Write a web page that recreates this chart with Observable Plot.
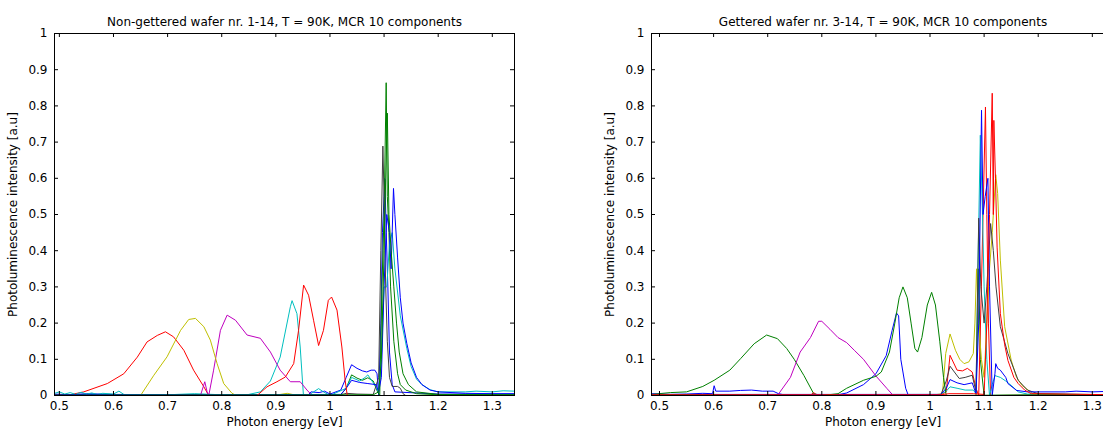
<!DOCTYPE html>
<html>
<head>
<meta charset="utf-8">
<script src="https://cdn.jsdelivr.net/npm/d3@7"></script>
<script src="https://cdn.jsdelivr.net/npm/@observablehq/plot@0.6"></script>
<style>
  html, body { margin: 0; padding: 0; background: #fff; overflow: hidden; }
  #wrap { position: relative; width: 1103px; height: 434px; overflow: hidden; background: #fff; }
  #wrap > div { position: absolute; top: 0; }
  #wrap svg { max-width: none !important; overflow: visible; }
</style>
</head>
<body>
<div id="wrap"><div id="left"></div><div id="right"></div></div>
<script>
// ---------- tick values ----------
const xTicks = [0.5, 0.6, 0.7, 0.8, 0.9, 1, 1.1, 1.2, 1.3];
const yTicks = [0, 0.1, 0.2, 0.3, 0.4, 0.5, 0.6, 0.7, 0.8, 0.9, 1];

// ---------- titles / labels ----------
const leftTitle = "Non-gettered wafer nr. 1-14, T = 90K, MCR 10 components";
const rightTitle = "Gettered wafer nr. 3-14, T = 90K, MCR 10 components";
const xLabel = "Photon energy [eV]";
const yLabel = "Photoluminescence intensity [a.u]";

// MATLAB default line colours
const colB = "#0000ff", colG = "#008000", colR = "#ff0000", colC = "#00bfbf",
      colM = "#bf00bf", colY = "#bfbf00", colK = "#404040";

// ---------- LEFT PANEL (non-gettered) components ----------
const L1_x = [0.491,0.52,0.55,0.6,0.7,0.8,0.9,0.96,0.965,0.98,0.99,1.0,1.02,1.03,1.04,1.05,1.06,1.068,1.076,1.083,1.087,1.09,1.094,1.097,1.1015,1.104,1.107,1.11,1.115,1.12,1.2,1.341];
const L1_y = [0.004,0.002,0.005,0.003,0.002,0.002,0.002,0.002,0.01,0.008,0.012,0.004,0.015,0.05,0.085,0.075,0.068,0.065,0.07,0.07,0.06,0.0,0.2,0.45,0.6,0.45,0.3,0.12,0.03,0.01,0.004,0.004];
const L2_x = [0.491,1.02,1.03,1.04,1.05,1.06,1.07,1.08,1.088,1.092,1.096,1.1,1.1039,1.106,1.109,1.112,1.118,1.125,1.13,1.14,1.16,1.2,1.341];
const L2_y = [0.001,0.002,0.02,0.057,0.048,0.042,0.049,0.04,0.01,0.0,0.3,0.5,0.864,0.55,0.45,0.3,0.15,0.06,0.03,0.015,0.005,0.002,0.002];
const L3_x = [0.491,0.52,0.545,0.5886,0.619,0.644,0.662,0.681,0.696,0.711,0.73,0.748,0.767,0.776,0.78];
const L3_y = [0.002,0.002,0.01,0.033,0.06,0.106,0.148,0.166,0.176,0.162,0.125,0.07,0.024,0.0,0.0];
const L4_x = [0.491,0.5,0.51,0.52,0.53,0.54,0.55,0.56,0.57,0.58,0.6,0.61,0.62,0.7,0.75,0.8,0.847,0.8714,0.89,0.908,0.9268,0.93,0.939,0.945,0.951,0.96,0.9697,0.979,0.988,1.0,1.03,1.04,1.055,1.065,1.07,1.08,1.09,1.095,1.1,1.105,1.11,1.115,1.12,1.13,1.142,1.15,1.16,1.17,1.185,1.2,1.25,1.27,1.3,1.32,1.341];
const L4_y = [0.006,0.01,0.004,0.008,0.003,0.009,0.004,0.007,0.003,0.006,0.004,0.012,0.002,0.002,0.005,0.002,0.002,0.01,0.04,0.106,0.245,0.262,0.226,0.134,0.0,0.0,0.01,0.019,0.01,0.0,0.02,0.05,0.04,0.05,0.057,0.035,0.01,0.1,0.3,0.3,0.42,0.45,0.35,0.22,0.13,0.08,0.045,0.03,0.016,0.01,0.01,0.012,0.01,0.013,0.012];
const L5_x = [0.7607,0.7687,0.773,0.776,0.785,0.7976,0.81,0.8254,0.8469,0.8714,0.89,0.908,0.9268,0.945,0.9576,0.967];
const L5_y = [0.0,0.038,0.01,0.0,0.07,0.18,0.222,0.208,0.167,0.158,0.12,0.07,0.038,0.038,0.015,0.0];
const L6_x = [0.65,0.6746,0.699,0.724,0.739,0.7515,0.767,0.779,0.7915,0.8037,0.819,0.827,0.896,0.921,0.94];
const L6_y = [0.0,0.056,0.107,0.18,0.21,0.213,0.19,0.153,0.088,0.033,0.006,0.0,0.0,0.006,0.0];
const L7_x = [0.491,1.02,1.03,1.05,1.08,1.09,1.094,1.0978,1.1,1.103,1.106,1.11,1.115,1.125,1.13,1.135,1.14,1.341];
const L7_y = [0.0,0.002,0.006,0.004,0.003,0.05,0.4,0.689,0.55,0.3,0.15,0.05,0.025,0.025,0.02,0.005,0.0,0.0];
const L8_x = [0.491,0.55,0.6,0.8,1.02,1.03,1.04,1.055,1.07,1.085,1.09,1.095,1.1,1.105,1.11,1.113,1.1174,1.12,1.125,1.13,1.135,1.142,1.15,1.16,1.17,1.185,1.2,1.25,1.3,1.341];
const L8_y = [0.002,0.003,0.002,0.002,0.003,0.02,0.042,0.036,0.033,0.03,0.01,0.05,0.3,0.5,0.45,0.35,0.572,0.5,0.38,0.27,0.2,0.144,0.09,0.05,0.03,0.015,0.01,0.006,0.005,0.005];
const L9_x = [0.491,1.08,1.09,1.095,1.1,1.103,1.106,1.109,1.113,1.118,1.123,1.128,1.135,1.145,1.16,1.2,1.341];
const L9_y = [0.001,0.002,0.01,0.1,0.4,0.6,0.78,0.5,0.4,0.3,0.2,0.12,0.06,0.03,0.01,0.003,0.002];
const L10_x = [0.8653,0.8837,0.902,0.9175,0.933,0.942,0.9513,0.9605,0.9697,0.979,0.988,0.997,1.003,1.013,1.022,1.028,1.032,1.05,1.341];
const L10_y = [0.0,0.024,0.038,0.051,0.088,0.18,0.305,0.277,0.208,0.138,0.18,0.263,0.272,0.236,0.134,0.042,0.0,0.0,0.0];

// ---------- RIGHT PANEL (gettered) components ----------
const R1_x = [0.485,0.52,0.55,0.58,0.598,0.601,0.604,0.63,0.65,0.67,0.69,0.71,0.72,0.73,0.8,0.83,0.846,0.877,0.9,0.919,0.93,0.938,0.942,0.946,0.955,0.96,1.341];
const R1_y = [0.005,0.003,0.004,0.006,0.005,0.027,0.012,0.012,0.014,0.015,0.012,0.012,0.005,0.002,0.002,0.002,0.007,0.03,0.06,0.11,0.18,0.228,0.22,0.1,0.02,0.0,0.0];
const R2_x = [0.485,0.52,0.55,0.58,0.601,0.63,0.65,0.675,0.698,0.718,0.735,0.749,0.767,0.785,0.8,1.08,1.085,1.09,1.093,1.1,1.341];
const R2_y = [0.003,0.008,0.01,0.025,0.042,0.07,0.102,0.143,0.167,0.157,0.13,0.1,0.055,0.005,0.0,0.0,0.0,0.35,0.1,0.0,0.003];
const R3_x = [0.485,0.78,0.785,0.79,1.02,1.03,1.037,1.05,1.06,1.069,1.078,1.085,1.09,1.095,1.1025,1.105,1.108,1.112,1.12,1.341];
const R3_y = [0.002,0.002,0.008,0.002,0.002,0.01,0.111,0.07,0.068,0.075,0.065,0.02,0.0,0.3,0.797,0.5,0.2,0.0,0.0,0.002];
const R4_x = [0.485,1.02,1.03,1.037,1.05,1.065,1.08,1.085,1.088,1.093,1.097,1.1,1.105,1.11,1.115,1.12,1.13,1.14,1.15,1.163,1.18,1.341];
const R4_y = [0.002,0.003,0.012,0.024,0.02,0.015,0.015,0.005,0.3,0.719,0.5,0.3,0.1,0.0,0.03,0.055,0.05,0.04,0.028,0.01,0.004,0.002];
const R5_x = [0.718,0.742,0.76,0.779,0.794,0.8,0.815,0.83,0.846,0.86,0.877,0.9,0.92,0.932];
const R5_y = [0.0,0.05,0.12,0.16,0.205,0.205,0.183,0.16,0.146,0.125,0.1,0.054,0.02,0.0];
const R6_x = [0.485,1.0,1.023,1.029,1.037,1.047,1.055,1.063,1.072,1.08,1.083,1.086,1.09,1.095,1.1,1.105,1.11,1.115,1.1215,1.125,1.13,1.138,1.15,1.16,1.17,1.19,1.341];
const R6_y = [0.0,0.0,0.005,0.116,0.17,0.125,0.1,0.088,0.093,0.116,0.2,0.35,0.2,0.1,0.05,0.2,0.35,0.45,0.61,0.558,0.374,0.19,0.098,0.05,0.028,0.005,0.0];
const R7_x = [0.485,1.02,1.03,1.037,1.054,1.065,1.078,1.085,1.09,1.094,1.1,1.105,1.112,1.117,1.122,1.13,1.144,1.163,1.18,1.2,1.341];
const R7_y = [0.0,0.002,0.04,0.081,0.047,0.05,0.056,0.01,0.49,0.3,0.2,0.3,0.475,0.4,0.3,0.19,0.116,0.042,0.015,0.005,0.002];
const R8_x = [0.485,1.02,1.03,1.037,1.05,1.063,1.078,1.085,1.09,1.0952,1.098,1.102,1.107,1.11,1.115,1.12,1.1215,1.125,1.13,1.14,1.144,1.16,1.18,1.25,1.27,1.3,1.341];
const R8_y = [0.003,0.003,0.02,0.044,0.035,0.03,0.035,0.005,0.2,0.788,0.5,0.55,0.6,0.3,0.0,0.06,0.088,0.075,0.07,0.05,0.033,0.014,0.01,0.01,0.012,0.01,0.012];
const R9_x = [0.485,0.8,0.83,0.846,0.877,0.9,0.91,0.925,0.935,0.943,0.95,0.958,0.965,0.972,0.977,0.985,0.995,1.003,1.01,1.018,1.025,1.03,1.341];
const R9_y = [0.002,0.0,0.005,0.02,0.042,0.053,0.065,0.12,0.2,0.27,0.3,0.27,0.2,0.13,0.12,0.16,0.25,0.285,0.25,0.15,0.05,0.0,0.003];
const R10_x = [0.485,1.02,1.035,1.08,1.1,1.105,1.11,1.115,1.117,1.118,1.121,1.124,1.13,1.138,1.144,1.155,1.163,1.175,1.187,1.341];
const R10_y = [0.002,0.002,0.005,0.005,0.003,0.2,0.5,0.835,0.5,0.76,0.6,0.41,0.226,0.14,0.097,0.05,0.033,0.015,0.005,0.002];

const order = [colB, colG, colR, colC, colM, colY, colK, colB, colG, colR];
const leftSeries = [[L1_x,L1_y],[L2_x,L2_y],[L3_x,L3_y],[L4_x,L4_y],[L5_x,L5_y],[L6_x,L6_y],[L7_x,L7_y],[L8_x,L8_y],[L9_x,L9_y],[L10_x,L10_y]];
const rightSeries = [[R1_x,R1_y],[R2_x,R2_y],[R3_x,R3_y],[R4_x,R4_y],[R5_x,R5_y],[R6_x,R6_y],[R7_x,R7_y],[R8_x,R8_y],[R9_x,R9_y],[R10_x,R10_y]];

const FONT = "DejaVu Sans, sans-serif";
const H = 434, MT = 33, MB = 39, ML = 54, MR = 26;
const plotH = H - MT - MB;

function panel(series, xDomain, width, title) {
  const plotW = width - ML - MR;
  const lineMarks = series.map(([xs, ys], i) =>
    Plot.line(xs.map((x, j) => ({x, y: ys[j]})), {x: "x", y: "y", stroke: order[i], strokeWidth: 1, clip: true})
  );
  return Plot.plot({
    width, height: H,
    marginTop: MT, marginBottom: MB, marginLeft: ML, marginRight: MR,
    style: {fontFamily: FONT, fontSize: "12px", color: "#000", background: "transparent", maxWidth: "none"},
    x: {domain: xDomain},
    y: {domain: [0, 1]},
    marks: [
      ...lineMarks,
      Plot.frame({stroke: "#000", strokeWidth: 1}),
      Plot.ruleX(xTicks, {x: d => d, insetTop: plotH - 4, stroke: "#000"}),
      Plot.ruleX(xTicks, {x: d => d, insetBottom: plotH - 4, stroke: "#000"}),
      Plot.ruleY(yTicks, {y: d => d, insetRight: plotW - 4, stroke: "#000"}),
      Plot.ruleY(yTicks, {y: d => d, insetLeft: plotW - 4, stroke: "#000"}),
      Plot.axisX({ticks: xTicks, tickSize: 0, tickPadding: 6, tickFormat: d => String(d), label: null, fontSize: 12}),
      Plot.axisY({ticks: yTicks, tickSize: 0, tickPadding: 7, tickFormat: d => String(d), label: null, fontSize: 12}),
      Plot.text([title], {text: d => d, frameAnchor: "top", dy: -16, fontSize: 12, fill: "#000"}),
      Plot.text([xLabel], {text: d => d, frameAnchor: "bottom", dy: 30, fontSize: 12, fill: "#000"}),
      Plot.text([yLabel], {text: d => d, frameAnchor: "left", dx: -41, rotate: -90, textAnchor: "middle", fontSize: 12, fill: "#000"})
    ]
  });
}

const leftDomain = [0.491, 1.341];
const rightDomain = [0.4852, 1.341];
const pxPerUnit = 541.5;
const leftW = Math.round(ML + (leftDomain[1] - leftDomain[0]) * pxPerUnit + MR);
const rightW = Math.round(ML + (rightDomain[1] - rightDomain[0]) * pxPerUnit + MR);

const leftEl = document.getElementById("left");
leftEl.style.left = "0px";
leftEl.style.width = leftW + "px";
leftEl.appendChild(panel(leftSeries, leftDomain, leftW, leftTitle));

const rightEl = document.getElementById("right");
rightEl.style.left = "597px";
rightEl.style.width = rightW + "px";
rightEl.appendChild(panel(rightSeries, rightDomain, rightW, rightTitle));
</script>
</body>
</html>
